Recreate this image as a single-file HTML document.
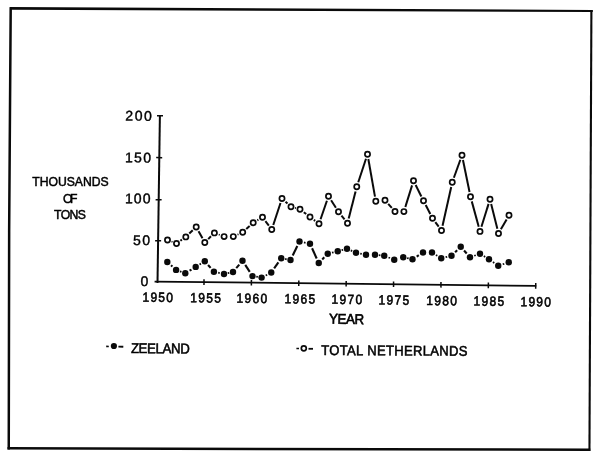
<!DOCTYPE html>
<html><head><meta charset="utf-8"><title>Chart</title>
<style>
html,body{margin:0;padding:0;background:#fff;}
body{width:600px;height:460px;overflow:hidden;}
svg{display:block;}
text{font-family:"Liberation Sans",Arial,Helvetica,sans-serif;fill:#000;}
</style></head><body>
<svg width="600" height="460" viewBox="0 0 600 460">
<rect width="600" height="460" fill="#fff"/>
<polygon points="9.3,7.1 592.8,10.0 592.8,12.0 11.6,9.7" fill="#0a0a0a"/>
<polyline points="10.7,7.5 9.15,232 8.75,449.4" fill="none" stroke="#0a0a0a" stroke-width="2.5"/>
<line x1="591.4" y1="10" x2="589.45" y2="451" stroke="#0a0a0a" stroke-width="2.1"/>
<line x1="7.5" y1="448.2" x2="590.3" y2="449.85" stroke="#0a0a0a" stroke-width="2.5"/>
<line x1="159.9" y1="115.2" x2="157.5" y2="283" stroke="#0a0a0a" stroke-width="2"/>
<line x1="154.6" y1="281.55" x2="536.2" y2="285.9" stroke="#0a0a0a" stroke-width="1.8"/>
<line x1="157" y1="115.67" x2="163" y2="115.73" stroke="#0a0a0a" stroke-width="1.5"/>
<line x1="156.2" y1="157.57" x2="162.2" y2="157.63" stroke="#0a0a0a" stroke-width="1.5"/>
<line x1="155.6" y1="199.67" x2="161.6" y2="199.73" stroke="#0a0a0a" stroke-width="1.5"/>
<line x1="155.1" y1="240.77" x2="161.1" y2="240.83" stroke="#0a0a0a" stroke-width="1.5"/>
<line x1="204.03" y1="279.33" x2="203.97" y2="284.93" stroke="#0a0a0a" stroke-width="1.5"/>
<line x1="251.42" y1="279.87" x2="251.36" y2="285.47" stroke="#0a0a0a" stroke-width="1.5"/>
<line x1="298.81" y1="280.41" x2="298.75" y2="286.01" stroke="#0a0a0a" stroke-width="1.5"/>
<line x1="346.20" y1="280.95" x2="346.14" y2="286.55" stroke="#0a0a0a" stroke-width="1.5"/>
<line x1="393.59" y1="281.49" x2="393.53" y2="287.09" stroke="#0a0a0a" stroke-width="1.5"/>
<line x1="440.98" y1="282.02" x2="440.92" y2="287.62" stroke="#0a0a0a" stroke-width="1.5"/>
<line x1="488.37" y1="282.56" x2="488.31" y2="288.16" stroke="#0a0a0a" stroke-width="1.5"/>
<line x1="535.76" y1="283.10" x2="535.70" y2="288.70" stroke="#0a0a0a" stroke-width="1.5"/>
<line x1="171.53" y1="241.57" x2="172.47" y2="241.93" stroke="#0a0a0a" stroke-width="1.70"/>
<line x1="180.41" y1="240.72" x2="181.89" y2="239.68" stroke="#0a0a0a" stroke-width="2.0"/>
<line x1="189.28" y1="233.59" x2="192.72" y2="230.31" stroke="#0a0a0a" stroke-width="2.0"/>
<line x1="198.53" y1="231.20" x2="202.47" y2="238.30" stroke="#0a0a0a" stroke-width="2.0"/>
<line x1="208.19" y1="239.11" x2="211.01" y2="236.29" stroke="#0a0a0a" stroke-width="2.0"/>
<line x1="218.78" y1="234.57" x2="219.72" y2="234.93" stroke="#0a0a0a" stroke-width="1.70"/>
<line x1="237.55" y1="234.61" x2="238.45" y2="234.19" stroke="#0a0a0a" stroke-width="1.70"/>
<line x1="246.26" y1="228.98" x2="249.64" y2="225.92" stroke="#0a0a0a" stroke-width="2.0"/>
<line x1="257.35" y1="220.29" x2="258.35" y2="219.71" stroke="#0a0a0a" stroke-width="2.0"/>
<line x1="265.40" y1="221.12" x2="268.85" y2="225.68" stroke="#0a0a0a" stroke-width="2.0"/>
<line x1="273.26" y1="224.94" x2="280.49" y2="203.06" stroke="#0a0a0a" stroke-width="2.0"/>
<line x1="285.54" y1="201.74" x2="287.46" y2="203.51" stroke="#0a0a0a" stroke-width="2.0"/>
<line x1="295.02" y1="207.87" x2="295.98" y2="208.13" stroke="#0a0a0a" stroke-width="1.70"/>
<line x1="303.79" y1="212.19" x2="306.21" y2="214.06" stroke="#0a0a0a" stroke-width="2.0"/>
<line x1="313.84" y1="219.88" x2="315.16" y2="220.87" stroke="#0a0a0a" stroke-width="2.0"/>
<line x1="320.57" y1="219.21" x2="326.93" y2="200.79" stroke="#0a0a0a" stroke-width="2.0"/>
<line x1="331.10" y1="200.28" x2="335.90" y2="207.72" stroke="#0a0a0a" stroke-width="2.0"/>
<line x1="341.46" y1="215.53" x2="344.54" y2="219.47" stroke="#0a0a0a" stroke-width="2.0"/>
<line x1="348.68" y1="218.60" x2="355.57" y2="191.40" stroke="#0a0a0a" stroke-width="2.0"/>
<line x1="358.26" y1="182.19" x2="365.99" y2="158.81" stroke="#0a0a0a" stroke-width="2.0"/>
<line x1="368.33" y1="158.98" x2="374.97" y2="196.57" stroke="#0a0a0a" stroke-width="2.0"/>
<line x1="388.19" y1="203.84" x2="391.81" y2="207.91" stroke="#0a0a0a" stroke-width="2.0"/>
<line x1="405.33" y1="207.02" x2="412.07" y2="185.33" stroke="#0a0a0a" stroke-width="2.0"/>
<line x1="415.65" y1="185.04" x2="421.35" y2="196.46" stroke="#0a0a0a" stroke-width="2.0"/>
<line x1="425.70" y1="205.02" x2="430.30" y2="213.98" stroke="#0a0a0a" stroke-width="2.0"/>
<line x1="435.34" y1="222.12" x2="438.66" y2="226.63" stroke="#0a0a0a" stroke-width="2.0"/>
<line x1="442.54" y1="225.81" x2="451.21" y2="186.94" stroke="#0a0a0a" stroke-width="2.0"/>
<line x1="453.88" y1="177.74" x2="460.37" y2="159.76" stroke="#0a0a0a" stroke-width="2.0"/>
<line x1="462.96" y1="159.95" x2="469.54" y2="192.05" stroke="#0a0a0a" stroke-width="2.0"/>
<line x1="471.77" y1="201.38" x2="478.73" y2="226.77" stroke="#0a0a0a" stroke-width="2.0"/>
<line x1="481.43" y1="226.82" x2="488.57" y2="203.83" stroke="#0a0a0a" stroke-width="2.0"/>
<line x1="491.16" y1="203.91" x2="497.34" y2="228.84" stroke="#0a0a0a" stroke-width="2.0"/>
<line x1="500.89" y1="229.34" x2="506.61" y2="219.41" stroke="#0a0a0a" stroke-width="2.0"/>
<circle cx="167.5" cy="240" r="2.6" fill="#fff" stroke="#0a0a0a" stroke-width="1.7"/>
<circle cx="176.5" cy="243.5" r="2.6" fill="#fff" stroke="#0a0a0a" stroke-width="1.7"/>
<circle cx="185.8" cy="236.9" r="2.6" fill="#fff" stroke="#0a0a0a" stroke-width="1.7"/>
<circle cx="196.2" cy="227" r="2.6" fill="#fff" stroke="#0a0a0a" stroke-width="1.7"/>
<circle cx="204.8" cy="242.5" r="2.6" fill="#fff" stroke="#0a0a0a" stroke-width="1.7"/>
<circle cx="214.4" cy="232.9" r="2.6" fill="#fff" stroke="#0a0a0a" stroke-width="1.7"/>
<circle cx="224.1" cy="236.6" r="2.6" fill="#fff" stroke="#0a0a0a" stroke-width="1.7"/>
<circle cx="233.3" cy="236.6" r="2.6" fill="#fff" stroke="#0a0a0a" stroke-width="1.7"/>
<circle cx="242.7" cy="232.2" r="2.6" fill="#fff" stroke="#0a0a0a" stroke-width="1.7"/>
<circle cx="253.2" cy="222.7" r="2.6" fill="#fff" stroke="#0a0a0a" stroke-width="1.7"/>
<circle cx="262.5" cy="217.3" r="2.6" fill="#fff" stroke="#0a0a0a" stroke-width="1.7"/>
<circle cx="271.75" cy="229.5" r="2.6" fill="#fff" stroke="#0a0a0a" stroke-width="1.7"/>
<circle cx="282" cy="198.5" r="2.6" fill="#fff" stroke="#0a0a0a" stroke-width="1.7"/>
<circle cx="291" cy="206.75" r="2.6" fill="#fff" stroke="#0a0a0a" stroke-width="1.7"/>
<circle cx="300" cy="209.25" r="2.6" fill="#fff" stroke="#0a0a0a" stroke-width="1.7"/>
<circle cx="310" cy="217" r="2.6" fill="#fff" stroke="#0a0a0a" stroke-width="1.7"/>
<circle cx="319" cy="223.75" r="2.6" fill="#fff" stroke="#0a0a0a" stroke-width="1.7"/>
<circle cx="328.5" cy="196.25" r="2.6" fill="#fff" stroke="#0a0a0a" stroke-width="1.7"/>
<circle cx="338.5" cy="211.75" r="2.6" fill="#fff" stroke="#0a0a0a" stroke-width="1.7"/>
<circle cx="347.5" cy="223.25" r="2.6" fill="#fff" stroke="#0a0a0a" stroke-width="1.7"/>
<circle cx="356.75" cy="186.75" r="2.6" fill="#fff" stroke="#0a0a0a" stroke-width="1.7"/>
<circle cx="367.5" cy="154.25" r="2.6" fill="#fff" stroke="#0a0a0a" stroke-width="1.7"/>
<circle cx="375.8" cy="201.3" r="2.6" fill="#fff" stroke="#0a0a0a" stroke-width="1.7"/>
<circle cx="385" cy="200.25" r="2.6" fill="#fff" stroke="#0a0a0a" stroke-width="1.7"/>
<circle cx="395.0" cy="211.5" r="2.6" fill="#fff" stroke="#0a0a0a" stroke-width="1.7"/>
<circle cx="403.9" cy="211.6" r="2.6" fill="#fff" stroke="#0a0a0a" stroke-width="1.7"/>
<circle cx="413.5" cy="180.75" r="2.6" fill="#fff" stroke="#0a0a0a" stroke-width="1.7"/>
<circle cx="423.5" cy="200.75" r="2.6" fill="#fff" stroke="#0a0a0a" stroke-width="1.7"/>
<circle cx="432.5" cy="218.25" r="2.6" fill="#fff" stroke="#0a0a0a" stroke-width="1.7"/>
<circle cx="441.5" cy="230.5" r="2.6" fill="#fff" stroke="#0a0a0a" stroke-width="1.7"/>
<circle cx="452.25" cy="182.25" r="2.6" fill="#fff" stroke="#0a0a0a" stroke-width="1.7"/>
<circle cx="462" cy="155.25" r="2.6" fill="#fff" stroke="#0a0a0a" stroke-width="1.7"/>
<circle cx="470.5" cy="196.75" r="2.6" fill="#fff" stroke="#0a0a0a" stroke-width="1.7"/>
<circle cx="480" cy="231.4" r="2.6" fill="#fff" stroke="#0a0a0a" stroke-width="1.7"/>
<circle cx="490" cy="199.25" r="2.6" fill="#fff" stroke="#0a0a0a" stroke-width="1.7"/>
<circle cx="498.5" cy="233.5" r="2.6" fill="#fff" stroke="#0a0a0a" stroke-width="1.7"/>
<circle cx="509" cy="215.25" r="2.6" fill="#fff" stroke="#0a0a0a" stroke-width="1.7"/>
<line x1="171.02" y1="265.34" x2="172.38" y2="266.56" stroke="#0a0a0a" stroke-width="2.1"/>
<line x1="179.95" y1="271.32" x2="181.45" y2="271.88" stroke="#0a0a0a" stroke-width="1.78"/>
<line x1="189.56" y1="270.68" x2="191.44" y2="269.52" stroke="#0a0a0a" stroke-width="2.1"/>
<line x1="199.57" y1="264.47" x2="200.93" y2="263.63" stroke="#0a0a0a" stroke-width="1.78"/>
<line x1="208.07" y1="264.98" x2="210.63" y2="267.92" stroke="#0a0a0a" stroke-width="2.1"/>
<line x1="218.17" y1="272.67" x2="219.73" y2="273.03" stroke="#0a0a0a" stroke-width="1.78"/>
<line x1="227.72" y1="273.17" x2="229.28" y2="272.83" stroke="#0a0a0a" stroke-width="1.78"/>
<line x1="236.23" y1="268.18" x2="239.27" y2="264.57" stroke="#0a0a0a" stroke-width="2.1"/>
<line x1="245.23" y1="264.94" x2="249.77" y2="271.91" stroke="#0a0a0a" stroke-width="2.1"/>
<line x1="256.26" y1="276.72" x2="257.84" y2="276.98" stroke="#0a0a0a" stroke-width="1.78"/>
<line x1="265.72" y1="275.42" x2="267.13" y2="274.68" stroke="#0a0a0a" stroke-width="1.78"/>
<line x1="274.12" y1="268.41" x2="278.38" y2="262.34" stroke="#0a0a0a" stroke-width="2.1"/>
<line x1="285.09" y1="258.98" x2="286.66" y2="259.27" stroke="#0a0a0a" stroke-width="1.78"/>
<line x1="292.69" y1="255.50" x2="297.31" y2="246.00" stroke="#0a0a0a" stroke-width="2.1"/>
<line x1="303.97" y1="242.46" x2="305.53" y2="242.79" stroke="#0a0a0a" stroke-width="1.78"/>
<line x1="312.07" y1="248.30" x2="316.68" y2="258.45" stroke="#0a0a0a" stroke-width="2.1"/>
<line x1="322.24" y1="259.42" x2="324.26" y2="257.33" stroke="#0a0a0a" stroke-width="2.1"/>
<line x1="331.97" y1="252.69" x2="333.53" y2="252.31" stroke="#0a0a0a" stroke-width="1.78"/>
<line x1="341.60" y1="250.21" x2="343.15" y2="249.79" stroke="#0a0a0a" stroke-width="1.78"/>
<line x1="350.77" y1="250.43" x2="352.23" y2="251.07" stroke="#0a0a0a" stroke-width="1.78"/>
<line x1="360.22" y1="253.59" x2="361.78" y2="253.91" stroke="#0a0a0a" stroke-width="1.78"/>
<line x1="378.83" y1="255.16" x2="380.42" y2="255.34" stroke="#0a0a0a" stroke-width="1.78"/>
<line x1="388.51" y1="257.45" x2="389.99" y2="258.05" stroke="#0a0a0a" stroke-width="1.78"/>
<line x1="407.09" y1="258.08" x2="408.66" y2="258.42" stroke="#0a0a0a" stroke-width="1.78"/>
<line x1="416.71" y1="256.55" x2="418.79" y2="255.20" stroke="#0a0a0a" stroke-width="2.1"/>
<line x1="435.95" y1="254.95" x2="437.30" y2="255.80" stroke="#0a0a0a" stroke-width="1.78"/>
<line x1="445.60" y1="257.19" x2="447.15" y2="256.81" stroke="#0a0a0a" stroke-width="1.78"/>
<line x1="455.08" y1="252.26" x2="457.17" y2="250.24" stroke="#0a0a0a" stroke-width="2.1"/>
<line x1="464.06" y1="250.50" x2="466.69" y2="253.50" stroke="#0a0a0a" stroke-width="2.1"/>
<line x1="474.24" y1="255.76" x2="475.76" y2="255.24" stroke="#0a0a0a" stroke-width="1.78"/>
<line x1="483.82" y1="256.08" x2="485.18" y2="256.92" stroke="#0a0a0a" stroke-width="1.78"/>
<line x1="492.97" y1="262.04" x2="494.28" y2="262.96" stroke="#0a0a0a" stroke-width="1.78"/>
<line x1="502.74" y1="264.27" x2="504.26" y2="263.78" stroke="#0a0a0a" stroke-width="1.78"/>
<circle cx="167.3" cy="262" r="3.2" fill="#0a0a0a"/>
<circle cx="176.1" cy="269.9" r="3.2" fill="#0a0a0a"/>
<circle cx="185.3" cy="273.3" r="3.2" fill="#0a0a0a"/>
<circle cx="195.7" cy="266.9" r="3.2" fill="#0a0a0a"/>
<circle cx="204.8" cy="261.2" r="3.2" fill="#0a0a0a"/>
<circle cx="213.9" cy="271.7" r="3.2" fill="#0a0a0a"/>
<circle cx="224" cy="274" r="3.2" fill="#0a0a0a"/>
<circle cx="233" cy="272" r="3.2" fill="#0a0a0a"/>
<circle cx="242.5" cy="260.75" r="3.2" fill="#0a0a0a"/>
<circle cx="252.5" cy="276.1" r="3.2" fill="#0a0a0a"/>
<circle cx="261.6" cy="277.6" r="3.2" fill="#0a0a0a"/>
<circle cx="271.25" cy="272.5" r="3.2" fill="#0a0a0a"/>
<circle cx="281.25" cy="258.25" r="3.2" fill="#0a0a0a"/>
<circle cx="290.5" cy="260" r="3.2" fill="#0a0a0a"/>
<circle cx="299.5" cy="241.5" r="3.2" fill="#0a0a0a"/>
<circle cx="310" cy="243.75" r="3.2" fill="#0a0a0a"/>
<circle cx="318.75" cy="263" r="3.2" fill="#0a0a0a"/>
<circle cx="327.75" cy="253.75" r="3.2" fill="#0a0a0a"/>
<circle cx="337.75" cy="251.25" r="3.2" fill="#0a0a0a"/>
<circle cx="347" cy="248.75" r="3.2" fill="#0a0a0a"/>
<circle cx="356" cy="252.75" r="3.2" fill="#0a0a0a"/>
<circle cx="366" cy="254.75" r="3.2" fill="#0a0a0a"/>
<circle cx="375" cy="254.75" r="3.2" fill="#0a0a0a"/>
<circle cx="384.25" cy="255.75" r="3.2" fill="#0a0a0a"/>
<circle cx="394.25" cy="259.75" r="3.2" fill="#0a0a0a"/>
<circle cx="403.25" cy="257.25" r="3.2" fill="#0a0a0a"/>
<circle cx="412.5" cy="259.25" r="3.2" fill="#0a0a0a"/>
<circle cx="423" cy="252.5" r="3.2" fill="#0a0a0a"/>
<circle cx="432" cy="252.5" r="3.2" fill="#0a0a0a"/>
<circle cx="441.25" cy="258.25" r="3.2" fill="#0a0a0a"/>
<circle cx="451.5" cy="255.75" r="3.2" fill="#0a0a0a"/>
<circle cx="460.75" cy="246.75" r="3.2" fill="#0a0a0a"/>
<circle cx="470" cy="257.25" r="3.2" fill="#0a0a0a"/>
<circle cx="480" cy="253.75" r="3.2" fill="#0a0a0a"/>
<circle cx="489" cy="259.25" r="3.2" fill="#0a0a0a"/>
<circle cx="498.25" cy="265.75" r="3.2" fill="#0a0a0a"/>
<circle cx="508.75" cy="262.3" r="3.2" fill="#0a0a0a"/>
<text x="0" y="0" font-size="14" text-anchor="end" textLength="26.50" lengthAdjust="spacing" stroke="#000" stroke-width="0.4" transform="translate(151.8 120.7) rotate(0.5) scale(1.0 1)">200</text>
<text x="0" y="0" font-size="14" text-anchor="end" textLength="26.00" lengthAdjust="spacing" stroke="#000" stroke-width="0.4" transform="translate(151.0 162.5) rotate(0.5) scale(1.0 1)">150</text>
<text x="0" y="0" font-size="14" text-anchor="end" textLength="25.50" lengthAdjust="spacing" stroke="#000" stroke-width="0.4" transform="translate(150.5 203.4) rotate(0.5) scale(1.0 1)">100</text>
<text x="0" y="0" font-size="14" text-anchor="end" textLength="17.00" lengthAdjust="spacing" stroke="#000" stroke-width="0.4" transform="translate(150.0 245.1) rotate(0.5) scale(1.0 1)">50</text>
<text x="0" y="0" font-size="14" text-anchor="end" stroke="#000" stroke-width="0.4" transform="translate(148.2 286.0) rotate(0.5) scale(1.0 1)">0</text>
<text x="0" y="0" font-size="13.3" text-anchor="middle" textLength="34.00" lengthAdjust="spacing" stroke="#000" stroke-width="0.6" transform="translate(157.7 301.8) rotate(0.5) scale(0.9 1)">1950</text>
<text x="0" y="0" font-size="13.3" text-anchor="middle" textLength="34.00" lengthAdjust="spacing" stroke="#000" stroke-width="0.6" transform="translate(205.5 302.4) rotate(0.5) scale(0.9 1)">1955</text>
<text x="0" y="0" font-size="13.3" text-anchor="middle" textLength="34.00" lengthAdjust="spacing" stroke="#000" stroke-width="0.6" transform="translate(251.9 302.9) rotate(0.5) scale(0.9 1)">1960</text>
<text x="0" y="0" font-size="13.3" text-anchor="middle" textLength="34.00" lengthAdjust="spacing" stroke="#000" stroke-width="0.6" transform="translate(299.8 303.5) rotate(0.5) scale(0.9 1)">1965</text>
<text x="0" y="0" font-size="13.3" text-anchor="middle" textLength="34.00" lengthAdjust="spacing" stroke="#000" stroke-width="0.6" transform="translate(346.9 304.0) rotate(0.5) scale(0.9 1)">1970</text>
<text x="0" y="0" font-size="13.3" text-anchor="middle" textLength="34.00" lengthAdjust="spacing" stroke="#000" stroke-width="0.6" transform="translate(393.9 304.6) rotate(0.5) scale(0.9 1)">1975</text>
<text x="0" y="0" font-size="13.3" text-anchor="middle" textLength="34.00" lengthAdjust="spacing" stroke="#000" stroke-width="0.6" transform="translate(441.5 305.2) rotate(0.5) scale(0.9 1)">1980</text>
<text x="0" y="0" font-size="13.3" text-anchor="middle" textLength="34.00" lengthAdjust="spacing" stroke="#000" stroke-width="0.6" transform="translate(488.8 305.7) rotate(0.5) scale(0.9 1)">1985</text>
<text x="0" y="0" font-size="13.3" text-anchor="middle" textLength="34.00" lengthAdjust="spacing" stroke="#000" stroke-width="0.6" transform="translate(535.7 306.3) rotate(0.5) scale(0.9 1)">1990</text>
<text x="0" y="0" font-size="14.2" text-anchor="middle" textLength="37.63" lengthAdjust="spacing" stroke="#000" stroke-width="0.65" transform="translate(346.5 323.8) rotate(1.0) scale(0.93 1)">YEAR</text>
<text x="0" y="0" font-size="13.3" text-anchor="middle" textLength="83.04" lengthAdjust="spacing" stroke="#000" stroke-width="0.5" transform="translate(70.5 185.9) rotate(0) scale(0.92 1)">THOUSANDS</text>
<text x="0" y="0" font-size="13.3" text-anchor="middle" textLength="15.87" lengthAdjust="spacing" stroke="#000" stroke-width="0.5" transform="translate(70.3 202.5) rotate(0) scale(0.92 1)">OF</text>
<text x="0" y="0" font-size="13.3" text-anchor="middle" textLength="34.78" lengthAdjust="spacing" stroke="#000" stroke-width="0.5" transform="translate(70.0 218.9) rotate(0) scale(0.92 1)">TONS</text>
<circle cx="113.9" cy="346.0" r="3.1" fill="#0a0a0a"/>
<line x1="106.2" y1="346.4" x2="108.8" y2="346.5" stroke="#0a0a0a" stroke-width="1.6"/>
<line x1="118.4" y1="346.6" x2="123.3" y2="346.7" stroke="#0a0a0a" stroke-width="1.9"/>
<text x="0" y="0" font-size="14.2" text-anchor="start" textLength="63.23" lengthAdjust="spacing" stroke="#000" stroke-width="0.55" transform="translate(130.9 353.0) rotate(0.5) scale(0.93 1)">ZEELAND</text>
<circle cx="303.8" cy="348.3" r="2.5" fill="#fff" stroke="#0a0a0a" stroke-width="1.7"/>
<line x1="296.4" y1="348.5" x2="299.0" y2="348.5" stroke="#0a0a0a" stroke-width="1.5"/>
<line x1="308.5" y1="348.8" x2="313" y2="348.8" stroke="#0a0a0a" stroke-width="1.8"/>
<text x="0" y="0" font-size="14" text-anchor="start" textLength="157.31" lengthAdjust="spacing" stroke="#000" stroke-width="0.55" transform="translate(321.2 355.0) rotate(0.3) scale(0.93 1)">TOTAL NETHERLANDS</text>
</svg>
</body></html>
